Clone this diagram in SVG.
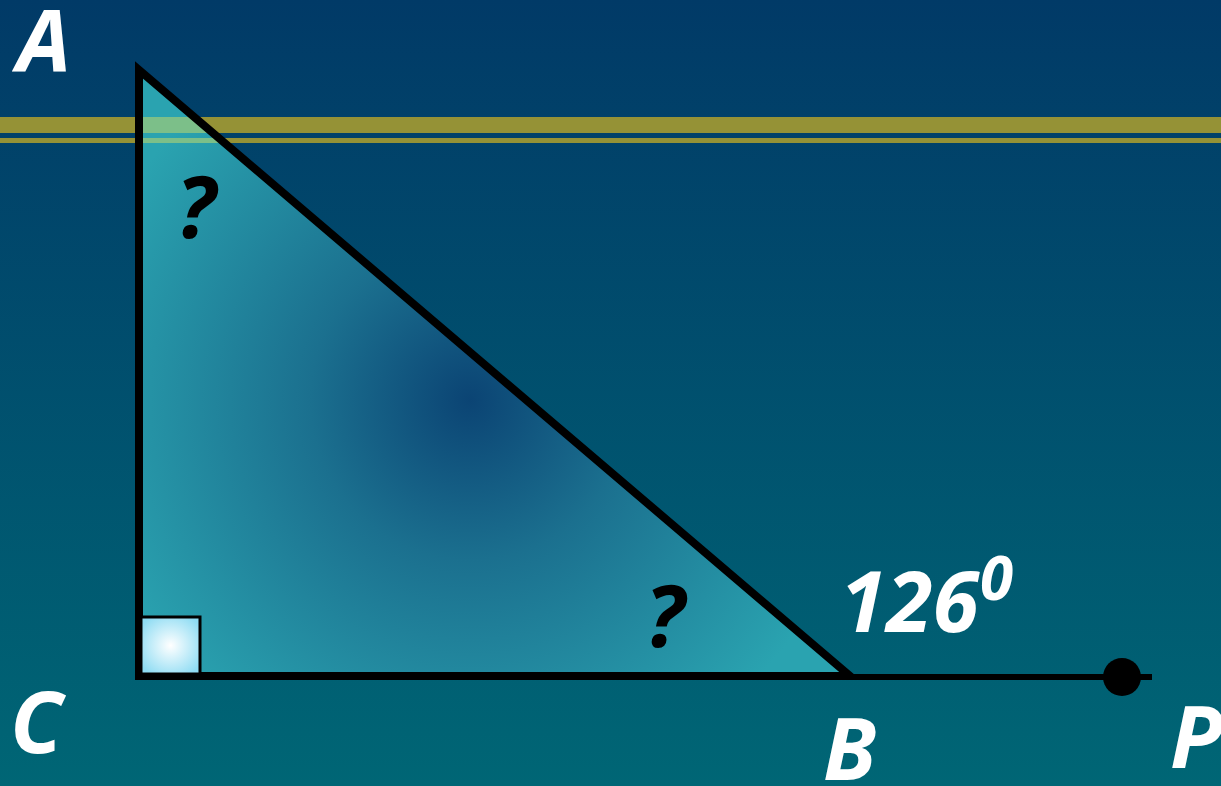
<svg xmlns="http://www.w3.org/2000/svg" width="1221" height="786" viewBox="0 0 1221 786">
<defs>
<linearGradient id="bg" x1="0" y1="0" x2="0" y2="1">
<stop offset="0" stop-color="#013a67"/>
<stop offset="1" stop-color="#006675"/>
</linearGradient>
<radialGradient id="tri" gradientUnits="userSpaceOnUse" cx="470" cy="400" r="400">
<stop offset="0" stop-color="#0b4474"/>
<stop offset="0.4" stop-color="#1b708f"/>
<stop offset="1" stop-color="#2aa3b0"/>
</radialGradient>
<radialGradient id="sq" cx="0.5" cy="0.5" r="0.6">
<stop offset="0" stop-color="#ffffff"/>
<stop offset="1" stop-color="#8fdcf3"/>
</radialGradient>
<clipPath id="triClip"><polygon points="139,70 139,676 850,676"/></clipPath>
<style>
.lbl{font-family:"Open Sans","Noto Sans",sans-serif;font-weight:bold;font-style:italic;font-size:86px;fill:#ffffff}
.q{font-family:"Open Sans","Noto Sans",sans-serif;font-weight:bold;font-style:italic;font-size:86px;fill:#000000}
</style>
</defs>
<rect x="0" y="0" width="1221" height="786" fill="url(#bg)"/>
<g id="stripes">
<rect x="0" y="117" width="1221" height="16" fill="#959236"/>
<rect x="0" y="138" width="1221" height="5" fill="#959236"/>
</g>
<g id="triangle">
<polygon points="139,70 139,676 850,676" fill="url(#tri)"/>
<g clip-path="url(#triClip)">
<rect x="0" y="117" width="1221" height="16" fill="#7cbf89"/>
<rect x="0" y="138" width="1221" height="5" fill="#7cbf89"/>
</g>
<polygon points="139,70 139,676 850,676" fill="none" stroke="#000" stroke-width="8" stroke-linejoin="miter"/>
</g>
<g id="connectors">
<line x1="850" y1="677" x2="1152" y2="677" stroke="#000" stroke-width="6"/>
</g>
<g id="rightangle">
<rect x="141" y="617" width="59" height="57" fill="url(#sq)" stroke="#000" stroke-width="3"/>
</g>
<g id="pointP">
<circle cx="1122" cy="677" r="19" fill="#000"/>
</g>
<g id="labels">
<text class="lbl" x="17" y="72">A</text>
<text class="lbl" x="10" y="753">C</text>
<text class="lbl" x="823" y="780">B</text>
<text class="lbl" x="1170" y="768">P</text>
<text class="lbl" x="840" y="632" style="font-size:84px">126</text>
<text class="lbl" x="980" y="600" style="font-size:60px">0</text>
<text class="q" x="176" y="238">?</text>
<text class="q" x="645" y="647">?</text>
</g>
</svg>
